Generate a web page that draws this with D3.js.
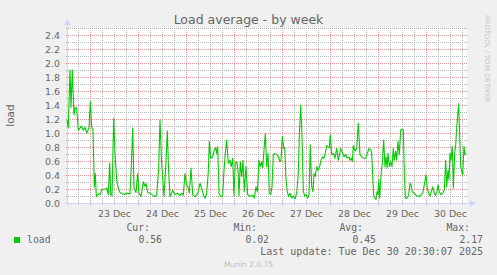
<!DOCTYPE html>
<html>
<head>
<meta charset="utf-8">
<script src="https://cdn.jsdelivr.net/npm/d3@7"></script>
<style>
  body { margin: 0; background: #f0f0f0; }
  svg { display: block; }
  text { font-family: "DejaVu Sans", sans-serif; fill: #666; }
  .mono { font-family: "DejaVu Sans Mono", monospace; }
</style>
</head>
<body>
<svg id="chart"></svg>
<script>
// window of the rrd graph: 200 hours ending at last update
var startTime = new Date(2025, 11, 22, 12, 30);
var endTime = new Date(2025, 11, 30, 20, 30);

// hours since startTime
var hours = [0, 0.65, 1.5, 2, 2.65, 3.5, 4.15, 4.85, 5.65, 6.5, 7.15, 8.15, 9, 9.85, 11, 11.65, 12.35, 13, 13.65, 14.15,
  14.65, 15.65, 16.5, 17.35, 19, 19.85, 20.65, 21.35, 21.85, 22.5, 23.35, 24, 24.85, 25.65, 26.5, 27.35, 28.65, 29.85, 31.5, 32.15,
  32.85, 33.5, 34.5, 35.35, 36, 37, 38.15, 38.85, 39.5, 40.35, 41.5, 42.5, 44, 44.85, 45.85, 46.5, 47.25, 48.5, 49.5, 50.15,
  50.75, 51.5, 52.85, 54, 55.15, 56.5, 57.35, 58.15, 59, 59.85, 60.65, 61.15, 62, 62.85, 64, 65.35, 66.5, 67.35, 68.15, 69,
  69.85, 70.65, 71.15, 71.85, 72.85, 73.65, 74.35, 74.85, 75.35, 76, 76.85, 77.85, 78.5, 79.15, 79.85, 80.65, 81.5, 82.15, 82.85, 83.5,
  84.15, 84.85, 85.5, 86, 86.65, 87.35, 88, 88.65, 89.5, 90.35, 91.15, 92, 92.85, 93.65, 94.5, 95.15, 96, 96.65, 97.35, 97.85,
  98.5, 99.15, 99.85, 100.5, 101.15, 101.85, 102.5, 103.15, 104, 104.85, 105.65, 106.5, 107, 107.65, 108.35, 108.85, 109.5, 110.15, 110.85, 111.5,
  112.35, 113.15, 114, 114.85, 115.65, 116.15, 116.85, 117.5, 118.15, 118.85, 119.5, 120.35, 121, 121.65, 122.35, 123, 123.5, 124.15, 124.85, 125.5,
  126.15, 127, 127.85, 128.5, 129.15, 129.85, 130.5, 131.15, 131.65, 132.35, 133.15, 134, 134.85, 135.65, 136.85, 137.85, 138.5, 139.35, 140.15, 141,
  141.5, 142.15, 142.65, 143.15, 144, 144.85, 145.65, 146.5, 147.35, 148.15, 149.35, 150.15, 151, 151.85, 152.35, 152.85, 153.35, 154, 154.5, 155,
  155.5, 155.85, 156.35, 157, 157.65, 158.35, 159, 159.5, 160, 160.5, 161.15, 161.85, 162.5, 163.15, 163.65, 164.35, 164.85, 165.5, 166.15, 166.85,
  167.35, 168.15, 168.65, 169.15, 170.15, 170.85, 171.5, 172, 172.65, 173.5, 174.5, 175.35, 176.15, 177, 177.85, 178.65, 179.5, 180.15, 180.85, 181.5,
  182.15, 182.85, 183.5, 184.15, 184.85, 185.5, 186.15, 187, 187.85, 188.65, 189.35, 189.85, 190.5, 191, 191.5, 192, 192.65, 193.15, 193.85, 194.35,
  194.85, 195.35, 195.85, 196.35, 196.85, 197.35, 197.85, 198.5, 199, 199.35];

var load = [1.19, 1.07, 1.9, 1.36, 1.9, 1.26, 1.37, 1.35, 1.04, 1.07, 1.1, 1.04, 1.08, 1.0, 1.07, 1.45, 1.08, 1.04, 0.23, 0.42,
  0.09, 0.13, 0.12, 0.19, 0.2, 0.21, 0.12, 0.57, 0.12, 0.1, 1.21, 0.71, 0.33, 0.21, 0.15, 0.14, 0.12, 0.14, 0.13, 0.52,
  1.07, 0.21, 0.15, 0.42, 0.14, 0.09, 0.3, 0.24, 0.28, 0.15, 0.14, 0.12, 0.09, 0.12, 0.5, 1.19, 0.6, 0.09, 0.6, 1.03,
  0.5, 0.09, 0.18, 0.12, 0.14, 0.11, 0.14, 0.11, 0.42, 0.26, 0.21, 0.14, 0.5, 0.12, 0.09, 0.14, 0.28, 0.21, 0.12, 0.07,
  0.14, 0.45, 0.88, 0.64, 0.66, 0.76, 0.79, 0.71, 0.8, 0.14, 0.09, 0.1, 0.47, 0.71, 0.9, 0.57, 0.61, 0.52, 0.64, 0.1,
  0.57, 0.59, 0.47, 0.1, 0.59, 0.38, 0.61, 0.16, 0.52, 0.12, 0.1, 0.1, 0.11, 0.07, 0.23, 0.16, 0.61, 0.52, 0.59, 0.5,
  0.76, 0.99, 0.52, 0.71, 0.14, 0.12, 0.23, 0.69, 0.71, 0.69, 0.66, 0.59, 0.61, 0.95, 0.78, 0.79, 0.33, 0.16, 0.09, 0.14,
  0.07, 0.1, 0.06, 0.14, 0.42, 0.95, 1.4, 0.95, 0.17, 0.1, 0.12, 0.07, 0.12, 0.83, 0.23, 0.16, 0.42, 0.38, 0.52, 0.47,
  0.5, 0.61, 0.66, 0.64, 0.71, 0.82, 0.8, 0.79, 0.97, 0.69, 0.71, 0.64, 0.78, 0.61, 0.78, 0.71, 0.66, 0.69, 0.64, 0.66,
  0.61, 0.64, 0.59, 0.82, 0.74, 0.78, 1.14, 0.69, 0.66, 0.64, 0.64, 0.71, 0.78, 0.76, 0.71, 0.38, 0.1, 0.07, 0.05, 0.16,
  0.12, 0.33, 0.07, 0.4, 0.57, 0.9, 0.52, 0.66, 0.5, 0.71, 0.52, 0.59, 0.52, 0.78, 0.61, 0.74, 0.61, 0.88, 0.69, 1.04,
  1.05, 1.05, 0.47, 0.07, 0.07, 0.12, 0.28, 0.26, 0.16, 0.14, 0.11, 0.1, 0.09, 0.12, 0.14, 0.26, 0.4, 0.21, 0.14, 0.1,
  0.16, 0.23, 0.16, 0.11, 0.14, 0.26, 0.16, 0.12, 0.14, 0.19, 0.61, 0.23, 0.47, 0.33, 0.71, 0.61, 0.81, 0.21, 0.71, 0.83,
  1.07, 1.26, 1.42, 0.95, 0.52, 0.45, 0.4, 0.81, 0.69, 0.71];

var yMajorTicks = [0, 0.2, 0.4, 0.6, 0.8, 1.0, 1.2, 1.4, 1.6, 1.8, 2.0, 2.2, 2.4];
var yMinorTicks = [0.1, 0.3, 0.5, 0.7, 0.9, 1.1, 1.3, 1.5, 1.7, 1.9, 2.1, 2.3, 2.5];
var legendHeads = ["Cur:", "Min:", "Avg:", "Max:"];
var legendValues = ["0.56", "0.02", "0.45", "2.17"];
var seriesName = "load";
var lastUpdate = "Last update: Tue Dec 30 20:30:07 2025";

var W = 497, H = 275;
var margin = {top: 28, left: 67, right: 30, bottom: 72};
var green = "#00cc00", axisCol = "#cfd6f8";
var minorCol = "#b4b4b4", majorCol = "#e69696";

var svg = d3.select("#chart").attr("width", W).attr("height", H);
svg.append("rect").attr("width", W).attr("height", H).attr("fill", "#f0f0f0");

var x = d3.scaleTime().domain([startTime, endTime]).range([margin.left, W - margin.right]);
var y = d3.scaleLinear().domain([0, 2.5]).range([H - margin.bottom, margin.top]);
var x0 = x.range()[0], x1 = x.range()[1], yb = y(0), yt = y(2.5);

var data = hours.map(function(h, i) {
    return {t: new Date(+startTime + h * 3600e3), v: load[i]};
});

// dotted patterns for the grid (1px on, 1px off)
var defs = svg.append("defs");
function dots(id, col, w, h) {
    defs.append("pattern").attr("id", id).attr("patternUnits", "userSpaceOnUse")
        .attr("width", w).attr("height", h)
        .append("rect").attr("width", 1).attr("height", 1).attr("fill", col);
}
dots("hMinor", minorCol, 2, 1);
dots("vMinor", minorCol, 1, 2);
dots("hMajor", majorCol, 2, 1);
dots("vMajor", majorCol, 1, 2);

// canvas
svg.append("rect").attr("x", x0).attr("y", yt).attr("width", x1 - x0).attr("height", yb - yt).attr("fill", "#fff");

var minorX = d3.timeHour.every(6).range(startTime, endTime).filter(function(d) { return d.getHours() !== 0; });
var majorX = d3.timeDay.range(startTime, endTime);
var noons = majorX.map(function(d) { return d3.timeHour.offset(d, 12); }).filter(function(d) { return d < endTime; });

var grid = svg.append("g");
grid.selectAll(".hmin").data(yMinorTicks).enter().append("rect")
    .attr("x", x0 - 2).attr("width", x1 - x0 + 2).attr("height", 1)
    .attr("y", function(d) { return Math.round(y(d)); }).attr("fill", "url(#hMinor)");
grid.selectAll(".vmin").data(minorX).enter().append("rect")
    .attr("y", yt).attr("height", yb - yt + 3).attr("width", 1)
    .attr("x", function(d) { return Math.round(x(d)); }).attr("fill", "url(#vMinor)");
grid.selectAll(".hmaj").data(yMajorTicks.slice(1)).enter().append("rect")
    .attr("x", x0 - 2).attr("width", x1 - x0 + 2).attr("height", 1)
    .attr("y", function(d) { return Math.round(y(d)); }).attr("fill", "url(#hMajor)");
grid.selectAll(".vmaj").data(majorX).enter().append("rect")
    .attr("y", yt).attr("height", yb - yt + 3).attr("width", 1)
    .attr("x", function(d) { return Math.round(x(d)); }).attr("fill", "url(#vMajor)");

// axes lines with arrows
var ax = svg.append("g");
ax.append("rect").attr("x", x0 - 2).attr("y", yb).attr("width", x1 - x0 + 6).attr("height", 1).attr("fill", axisCol);
ax.append("rect").attr("x", x0).attr("y", yt - 4).attr("width", 1).attr("height", yb - yt + 7).attr("fill", axisCol);
ax.append("path").attr("d", "M" + (x1 + 3) + "," + (yb - 3) + "l6,3.5l-6,3.5z").attr("fill", axisCol);
ax.append("path").attr("d", "M" + (x0 - 3) + "," + (yt - 3) + "l3.5,-6l3.5,6z").attr("fill", axisCol);

// series line
svg.append("path")
    .datum(data)
    .attr("fill", "none")
    .attr("stroke", green)
    .attr("stroke-width", 1.1)
    .attr("stroke-linejoin", "round")
    .attr("d", d3.line().x(function(d) { return x(d.t); }).y(function(d) { return y(d.v); }));

// tick labels
var yAxis = svg.append("g")
    .attr("transform", "translate(" + x0 + ",0)")
    .call(d3.axisLeft(y).tickValues(yMajorTicks).tickFormat(d3.format(".1f")).tickSize(0).tickPadding(7));
var xAxis = svg.append("g")
    .attr("transform", "translate(0," + yb + ")")
    .call(d3.axisBottom(x).tickValues(noons).tickFormat(d3.timeFormat("%d %b")).tickSize(0).tickPadding(7));
[yAxis, xAxis].forEach(function(a) {
    a.select(".domain").remove();
    a.selectAll("text").attr("fill", "#666").style("font-size", "9.4px").style("font-family", "DejaVu Sans");
});

// title and labels
svg.append("text").attr("x", W / 2).attr("y", 23.5).attr("text-anchor", "middle")
    .style("font-size", "12.5px").text("Load average - by week");
svg.append("text").attr("transform", "translate(14," + ((yb + yt) / 2) + ") rotate(-90)")
    .attr("text-anchor", "middle").style("font-size", "10.5px").text("load");
svg.append("text").attr("transform", "translate(484.5,15) rotate(90)")
    .style("font-size", "6.8px").style("fill", "#c4c4c4").text("RRDTOOL / TOBI OETIKER");

// legend
var headX = [150, 257, 363, 470];
var valX = [162, 269, 376, 483];
legendHeads.forEach(function(s, i) {
    svg.append("text").attr("class", "mono").attr("x", headX[i]).attr("y", 231)
        .attr("text-anchor", "end").style("font-size", "9.8px").text(s);
    svg.append("text").attr("class", "mono").attr("x", valX[i]).attr("y", 243)
        .attr("text-anchor", "end").style("font-size", "9.8px").text(legendValues[i]);
});
svg.append("rect").attr("x", 14).attr("y", 237).attr("width", 6).attr("height", 6).attr("fill", green);
svg.append("text").attr("class", "mono").attr("x", 27).attr("y", 243)
    .style("font-size", "9.8px").text(seriesName);
svg.append("text").attr("class", "mono").attr("x", 483).attr("y", 254.5)
    .attr("text-anchor", "end").style("font-size", "10px").text(lastUpdate);
svg.append("text").attr("x", W / 2).attr("y", 267).attr("text-anchor", "middle")
    .style("font-size", "7.5px").style("fill", "#bdbdbd").text("Munin 2.0.75");
</script>
</body>
</html>
